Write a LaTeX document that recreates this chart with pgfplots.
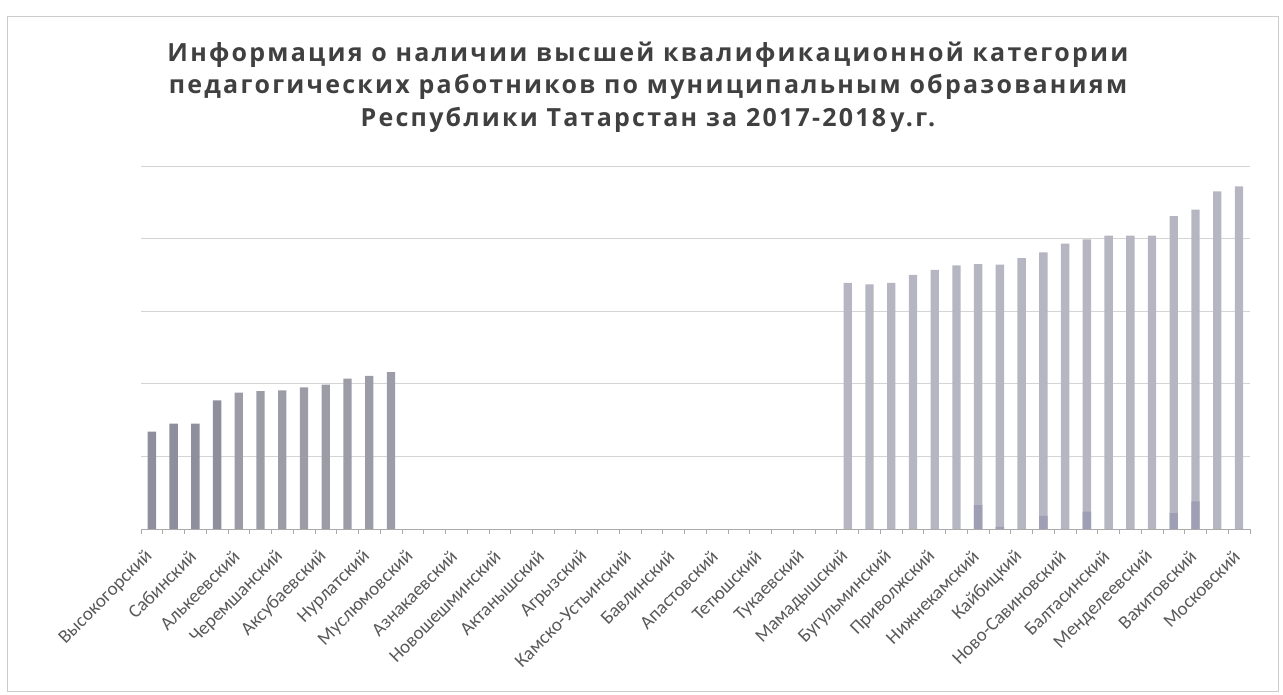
\documentclass[border=0pt]{standalone}
\usepackage{pgfplots}
\pgfplotsset{compat=1.18}
\usepackage{fontspec}
\setmainfont{Carlito}
\newfontfamily\labfont{Carlito}
\newfontfamily\titlefont[LetterSpace=9]{Open Sans}
\definecolor{barA}{HTML}{8E8E9C}
\definecolor{barB}{HTML}{9C9CA6}
\definecolor{barC}{HTML}{B6B6C2}
\definecolor{barD}{HTML}{9E9EB4}
\definecolor{gridc}{HTML}{D4D4D4}
\definecolor{titlec}{HTML}{404040}
\definecolor{labc}{HTML}{595959}
\begin{document}
\begin{tikzpicture}
\useasboundingbox (0,0) rectangle (1283pt,695pt);
\draw[gray!40, line width=0.8pt] (7pt,4pt) rectangle (1278pt,679pt);
\node[align=center, font=\titlefont\fontsize{25}{32.5}\selectfont\bfseries, text=titlec] at (648pt,608pt)
 {Информация о наличии высшей квалификационной категории\\педагогических работников по муниципальным образованиям\\Республики Татарстан за 2017-2018\,у.г.};
\begin{axis}[
 at={(141pt,166pt)}, anchor=south west,
 scale only axis, width=1109pt, height=363pt,
 xmin=-0.5, xmax=50.5, ymin=0, ymax=5,
 axis lines*=left,
 y axis line style={draw=none},
 x axis line style={draw=gridc!80!black, line width=0.8pt},
 ytick={1,2,3,4,5}, yticklabels={},
 ytick style={draw=none},
 ymajorgrids, grid style={draw=gridc, line width=0.8pt},
 xtick={0,2,...,50},
 xticklabels={Высокогорский,Сабинский,Алькеевский,Черемшанский,Аксубаевский,Нурлатский,Муслюмовский,Азнакаевский,Новошешминский,Актанышский,Агрызский,Камско-Устьинский,Бавлинский,Апастовский,Тетюшский,Тукаевский,Мамадышский,Бугульминский,Приволжский,Нижнекамский,Кайбицкий,Ново-Савиновский,Балтасинский,Менделеевский,Вахитовский,Московский},
 major x tick style={draw=none},
 minor xtick={-0.5,0.5,...,50.5},
 minor x tick style={draw=gridc!80!black, line width=0.8pt},
 minor tick length=5pt,
 tick align=outside,
 xticklabel style={rotate=45, anchor=east, font=\labfont\fontsize{19}{22}\selectfont, text=labc},
 xticklabel shift=18pt,
 clip=false,
]
\addplot[ybar, bar width=8.3pt, bar shift=0pt, fill=barA, draw=none] coordinates {
 (0,1.34) (1,1.45) (2,1.45) (3,1.77)};
\addplot[ybar, bar width=8.3pt, bar shift=0pt, fill=barB, draw=none] coordinates {
 (4,1.88) (5,1.90) (6,1.91) (7,1.95) (8,1.99) (9,2.07) (10,2.11) (11,2.16)};
\addplot[ybar, bar width=8.3pt, bar shift=0pt, fill=barC, draw=none] coordinates {
 (32,3.39) (33,3.37) (34,3.39) (35,3.50) (36,3.57) (37,3.63) (38,3.65) (39,3.64)
 (40,3.73) (41,3.81) (42,3.93) (43,3.99) (44,4.04) (45,4.04) (46,4.04) (47,4.31)
 (48,4.40) (49,4.65) (50,4.72)};
\addplot[ybar, bar width=8.3pt, bar shift=0pt, fill=barD, draw=none] coordinates {
 (38,0.33) (39,0.03) (41,0.18) (43,0.24) (47,0.22) (48,0.38)};
\end{axis}
\end{tikzpicture}
\end{document}
